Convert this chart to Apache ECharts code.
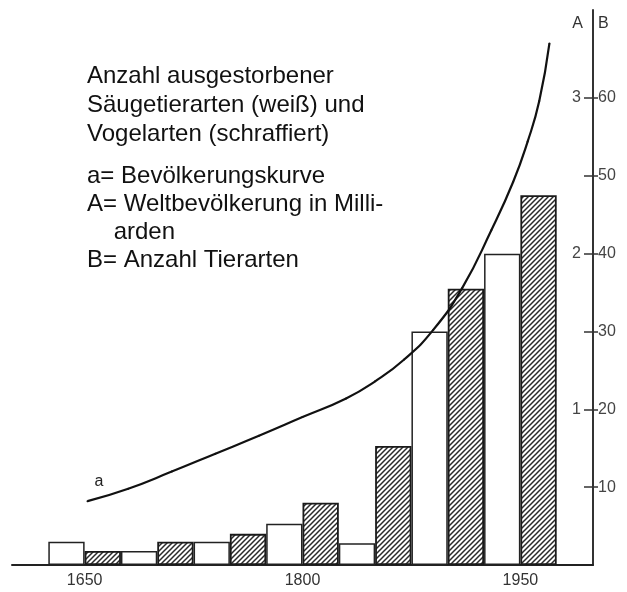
<!DOCTYPE html>
<html><head><meta charset="utf-8">
<script src="https://cdn.jsdelivr.net/npm/echarts@6/dist/echarts.min.js"></script>
<style>html,body{margin:0;padding:0;background:#fff}#c{width:627px;height:592px}</style>
</head><body><div id="c"></div>
<script>
// 25-year periods (start year of each bin)
const periods = ['1600','1625','1650','1675','1700','1725','1750','1775','1800','1825','1850','1875','1900','1925','1950','1975'];
// extinct mammal species (white bars), scale B
const mammals = [null,3.0,null,1.8,null,3.0,null,5.3,null,2.8,null,30,null,40,null,0];
// extinct bird species (hatched bars), scale B
const birds = [null,null,1.8,null,3.0,null,4.0,null,8.0,null,15.3,null,35.5,null,47.5,null];
// population curve a (scale A, billions)
const popYears = [1652,1680,1710,1740,1770,1800,1830,1850,1870,1890,1910,1930,1945,1955,1963,1970];
const popBillions = [0.41,0.49,0.60,0.715,0.83,0.95,1.07,1.18,1.32,1.51,1.78,2.15,2.46,2.72,2.98,3.35];
const yearLabels = [1650,1800,1950];
const speciesTicks = [10,20,30,40,50,60];
const popTicks = [0.5,1,1.5,2,2.5,3];
const popLabels = [1,2,3];

function hatch(){
  const s=5, c=document.createElement('canvas'); c.width=s; c.height=s;
  const g=c.getContext('2d');
  g.fillStyle='#fff'; g.fillRect(0,0,s,s);
  g.strokeStyle='#2a2a2a'; g.lineWidth=1.5; g.beginPath();
  g.moveTo(-1,s+1); g.lineTo(s+1,-1);
  g.moveTo(-1,1); g.lineTo(1,-1);
  g.moveTo(s-1,s+1); g.lineTo(s+1,s-1);
  g.stroke();
  return c;
}
const F='Liberation Sans, Arial, sans-serif';
const chart = echarts.init(document.getElementById('c'));
const popData = popYears.map((y,i)=> i===0 ? {value:[y,popBillions[i]], label:{show:true, formatter:'a', position:[8,-27], color:'#222', fontSize:16, fontFamily:F}} : [y,popBillions[i]]);
chart.setOption({
  animation:false,
  backgroundColor:'#fff',
  title:{left:82, top:57, itemGap:13,
    text:'Anzahl ausgestorbener\nSäugetierarten (weiß) und\nVogelarten (schraffiert)',
    subtext:'a= Bevölkerungskurve\nA= Weltbevölkerung in Milli-\n    arden\nB= Anzahl Tierarten',
    textStyle:{fontFamily:F, fontSize:24, fontWeight:'normal', color:'#111', lineHeight:29},
    subtextStyle:{fontFamily:F, fontSize:24, color:'#111', lineHeight:28}},
  grid:{left:12, right:34, top:10, bottom:27},
  xAxis:[
    {type:'category', data:periods, show:false, position:'bottom', boundaryGap:true},
    {type:'value', min:1600, max:2000, position:'bottom',
      axisLine:{show:true, lineStyle:{color:'#222', width:2}},
      axisTick:{show:false}, splitLine:{show:false},
      axisLabel:{customValues:yearLabels, formatter:v=>String(v), color:'#333', fontFamily:F, fontSize:16, margin:8}}
  ],
  yAxis:[
    {type:'value', min:0, max:71.3, position:'right', name:'B', nameLocation:'end', nameGap:-22,
      nameTextStyle:{align:'left', padding:[0,0,0,5], color:'#333', fontFamily:F, fontSize:16},
      axisLine:{show:true, lineStyle:{color:'#333', width:2}},
      axisTick:{show:true, customValues:speciesTicks, length:5, lineStyle:{color:'#333', width:1.5}},
      axisLabel:{customValues:speciesTicks, color:'#444', fontFamily:F, fontSize:16, margin:5},
      splitLine:{show:false}},
    {type:'value', min:0, max:3.565, position:'right', name:'A', nameLocation:'end', nameGap:-22,
      nameTextStyle:{align:'right', padding:[0,10,0,0], color:'#333', fontFamily:F, fontSize:16},
      axisLine:{show:false},
      axisTick:{show:true, inside:true, customValues:popTicks, length:9, lineStyle:{color:'#333', width:1.5}},
      axisLabel:{inside:true, customValues:popLabels, color:'#444', fontFamily:F, fontSize:16, margin:12},
      splitLine:{show:false}}
  ],
  series:[
    {type:'bar', name:'Säugetierarten', data:mammals, xAxisIndex:0, yAxisIndex:0, barWidth:'100%', barGap:'-100%',
      itemStyle:{color:'#fff', borderColor:'#222', borderWidth:1.5}},
    {type:'bar', name:'Vogelarten', data:birds, xAxisIndex:0, yAxisIndex:0, barWidth:'100%', barGap:'-100%',
      itemStyle:{color:{image:hatch(), repeat:'repeat'}, borderColor:'#1a1a1a', borderWidth:1.8}},
    {type:'line', name:'a', data:popData, xAxisIndex:1, yAxisIndex:1, smooth:true,
      symbol:'circle', symbolSize:2, itemStyle:{color:'#111'},
      lineStyle:{color:'#111', width:2.2}, z:5}
  ]
});
</script></body></html>
